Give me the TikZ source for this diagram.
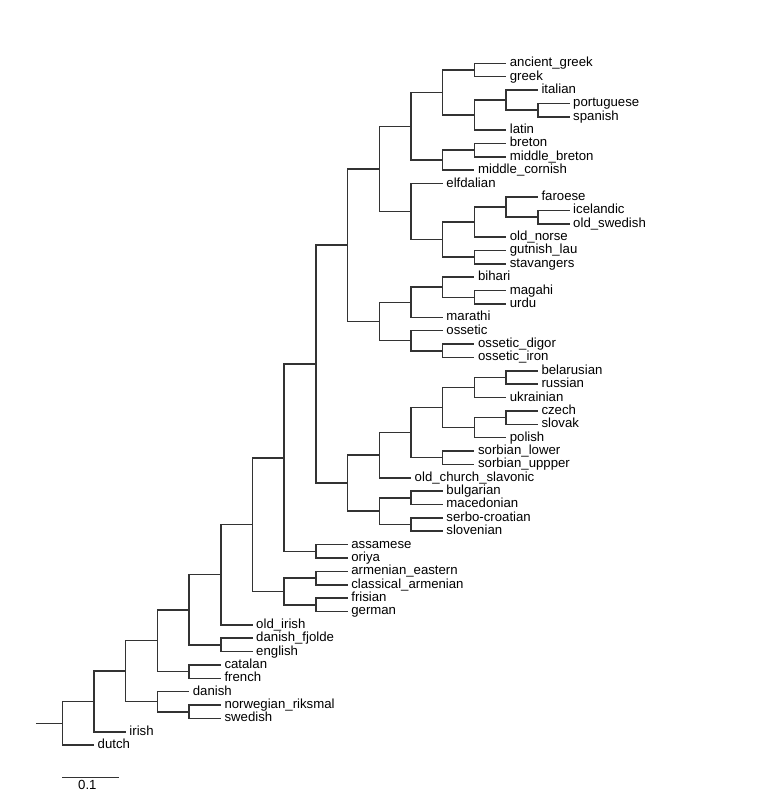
\documentclass[tikz,border=0pt]{standalone}
\usepackage{fontspec}
\setmainfont{Liberation Sans}
\newcommand\mytip[4]{\coordinate (t#1) at (#3,#2);\node[tiplabel] (l#1) at (t#1) {#4};}
\tikzset{
  tiplabel/.style={anchor=base west, inner sep=0pt, xshift=2.6pt, yshift=-2.6pt, font=\fontsize{9.9}{12}\selectfont},
  branch/.style={draw=black!80, line width=1.15pt}
}
\begin{document}
\begin{tikzpicture}
\useasboundingbox (0,0) rectangle (582pt,-594.75pt);
\begin{scope}[x=23.775pt,y=-10.0275pt,shift={(22.95pt,-47.475pt)}]
% tips: id, row, level, text
\mytip{0}{0}{15}{ancient\_greek}
\mytip{1}{1}{15}{greek}
\mytip{2}{2}{16}{italian}
\mytip{3}{3}{17}{portuguese}
\mytip{4}{4}{17}{spanish}
\mytip{5}{5}{15}{latin}
\mytip{6}{6}{15}{breton}
\mytip{7}{7}{15}{middle\_breton}
\mytip{8}{8}{14}{middle\_cornish}
\mytip{9}{9}{13}{elfdalian}
\mytip{10}{10}{16}{faroese}
\mytip{11}{11}{17}{icelandic}
\mytip{12}{12}{17}{old\_swedish}
\mytip{13}{13}{15}{old\_norse}
\mytip{14}{14}{15}{gutnish\_lau}
\mytip{15}{15}{15}{stavangers}
\mytip{16}{16}{14}{bihari}
\mytip{17}{17}{15}{magahi}
\mytip{18}{18}{15}{urdu}
\mytip{19}{19}{13}{marathi}
\mytip{20}{20}{13}{ossetic}
\mytip{21}{21}{14}{ossetic\_digor}
\mytip{22}{22}{14}{ossetic\_iron}
\mytip{23}{23}{16}{belarusian}
\mytip{24}{24}{16}{russian}
\mytip{25}{25}{15}{ukrainian}
\mytip{26}{26}{16}{czech}
\mytip{27}{27}{16}{slovak}
\mytip{28}{28}{15}{polish}
\mytip{29}{29}{14}{sorbian\_lower}
\mytip{30}{30}{14}{sorbian\_uppper}
\mytip{31}{31}{12}{old\_church\_slavonic}
\mytip{32}{32}{13}{bulgarian}
\mytip{33}{33}{13}{macedonian}
\mytip{34}{34}{13}{serbo-croatian}
\mytip{35}{35}{13}{slovenian}
\mytip{36}{36}{10}{assamese}
\mytip{37}{37}{10}{oriya}
\mytip{38}{38}{10}{armenian\_eastern}
\mytip{39}{39}{10}{classical\_armenian}
\mytip{40}{40}{10}{frisian}
\mytip{41}{41}{10}{german}
\mytip{42}{42}{7}{old\_irish}
\mytip{43}{43}{7}{danish\_fjolde}
\mytip{44}{44}{7}{english}
\mytip{45}{45}{6}{catalan}
\mytip{46}{46}{6}{french}
\mytip{47}{47}{5}{danish}
\mytip{48}{48}{6}{norwegian\_riksmal}
\mytip{49}{49}{6}{swedish}
\mytip{50}{50}{3}{irish}
\mytip{51}{51}{2}{dutch}
% internal nodes: (level,row)
\coordinate (gr) at (14,0.5);
\coordinate (ps) at (16,3.5);
\coordinate (it) at (15,2.75);
\coordinate (rom) at (14,3.875);
\coordinate (a1a) at (13,2.1875);
\coordinate (brt) at (14,6.5);
\coordinate (a1b) at (13,7.25);
\coordinate (a1) at (12,4.71875);
\coordinate (is) at (16,11.5);
\coordinate (fa) at (15,10.75);
\coordinate (no) at (14,11.875);
\coordinate (gu) at (14,14.5);
\coordinate (a2b) at (13,13.1875);
\coordinate (a2) at (12,11.09375);
\coordinate (na) at (11,7.90625);
\coordinate (mu) at (14,17.5);
\coordinate (bi) at (13,16.75);
\coordinate (b1) at (12,17.875);
\coordinate (od) at (13,21.5);
\coordinate (b2) at (12,20.75);
\coordinate (nb) at (11,19.3125);
\coordinate (ab) at (10,13.609375);
\coordinate (brr) at (15,23.5);
\coordinate (esl) at (14,24.25);
\coordinate (cs) at (15,26.5);
\coordinate (wsl) at (14,27.25);
\coordinate (ew) at (13,25.75);
\coordinate (so) at (13,29.5);
\coordinate (c1a) at (12,27.625);
\coordinate (c1) at (11,29.3125);
\coordinate (bm) at (12,32.5);
\coordinate (ss) at (12,34.5);
\coordinate (c2) at (11,33.5);
\coordinate (nc) at (10,31.40625);
\coordinate (abc) at (9,22.5078);
\coordinate (ao) at (9,36.5);
\coordinate (nd) at (8,29.5039);
\coordinate (ar) at (9,38.5);
\coordinate (fg) at (9,40.5);
\coordinate (ne) at (8,39.5);
\coordinate (n7) at (7,34.502);
\coordinate (n6) at (6,38.251);
\coordinate (de) at (6,43.5);
\coordinate (n5) at (5,40.8755);
\coordinate (cf) at (5,45.5);
\coordinate (n4) at (4,43.188);
\coordinate (nsw) at (5,48.5);
\coordinate (nh) at (4,47.75);
\coordinate (n3) at (3,45.469);
\coordinate (n2) at (2,47.734);
\coordinate (n1) at (1,49.367);
\coordinate (root) at (0.17,49.367);
% branches
\foreach \p/\c in {gr/t0, gr/t1, ps/t3, ps/t4, it/t2, it/ps, rom/it, rom/t5, a1a/gr, a1a/rom,
  brt/t6, brt/t7, a1b/brt, a1b/t8, a1/a1a, a1/a1b,
  is/t11, is/t12, fa/t10, fa/is, no/fa, no/t13, gu/t14, gu/t15, a2b/no, a2b/gu, a2/t9, a2/a2b, na/a1, na/a2,
  mu/t17, mu/t18, bi/t16, bi/mu, b1/bi, b1/t19, od/t21, od/t22, b2/t20, b2/od, nb/b1, nb/b2, ab/na, ab/nb,
  brr/t23, brr/t24, esl/brr, esl/t25, cs/t26, cs/t27, wsl/cs, wsl/t28, ew/esl, ew/wsl, so/t29, so/t30,
  c1a/ew, c1a/so, c1/c1a, c1/t31, bm/t32, bm/t33, ss/t34, ss/t35, c2/bm, c2/ss, nc/c1, nc/c2,
  abc/ab, abc/nc, ao/t36, ao/t37, nd/abc, nd/ao, ar/t38, ar/t39, fg/t40, fg/t41, ne/ar, ne/fg,
  n7/nd, n7/ne, n6/n7, n6/t42, de/t43, de/t44, n5/n6, n5/de, cf/t45, cf/t46, n4/n5, n4/cf,
  nsw/t48, nsw/t49, nh/t47, nh/nsw, n3/n4, n3/nh, n2/n3, n2/t50, n1/n2, n1/t51}
  \draw[branch] (\p) |- (\c);
\draw[branch] (root) -- (n1);
% scale bar
\coordinate (sb0) at (1,53.43);
\coordinate (sb1) at (2.798,53.43);
\draw[branch] (sb0) -- (sb1);
\node[anchor=base, inner sep=0pt, font=\fontsize{9.9}{12}\selectfont] (sbl) at (1.79,54.32) {0.1};
\end{scope}
\end{tikzpicture}
\end{document}
